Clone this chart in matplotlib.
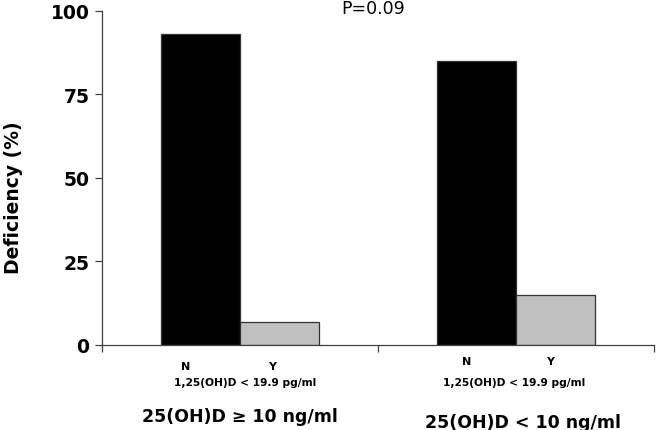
import matplotlib
matplotlib.use("Agg")
import matplotlib.pyplot as plt
import numpy as np

groups = ["25(OH)D \u2265 10 ng/ml", "25(OH)D < 10 ng/ml"]
sub_labels = ["N", "Y"]
sub_title = "1,25(OH)D < 19.9 pg/ml"
values_N = [93, 85]
values_Y = [7, 15]
yticks = [0, 25, 50, 75, 100]
p_text = "P=0.09"
ylabel = "Deficiency (%)"

W, H = 656, 431
fig = plt.figure(figsize=(W / 100, H / 100), dpi=100)
ax = fig.add_axes([102 / W, 1 - 346 / H, 552 / W, 334.5 / H])
x = np.arange(len(groups))
w = 0.286
ax.bar(x - w / 2, values_N, w, color="black", edgecolor="#333333", linewidth=0.9)
ax.bar(x + w / 2, values_Y, w, color="#c0c0c0", edgecolor="#333333", linewidth=0.9)
ax.set_xlim(-0.5, 1.5)
ax.set_ylim(0, 100)
ax.set_yticks(yticks)
ax.set_yticklabels([str(t) for t in yticks], fontfamily="DejaVu Sans",
                   fontweight="bold", fontsize=13.5)
ax.set_xticks([-0.5, 0.5, 1.5])
ax.set_xticklabels([])
ax.tick_params(axis="x", length=5, direction="out", color="#404040", width=0.9)
ax.tick_params(axis="y", length=5, direction="out", color="#404040", width=0.9, pad=4)
for s in ["top", "right"]:
    ax.spines[s].set_visible(False)
for s in ["left", "bottom"]:
    ax.spines[s].set_color("#404040")
    ax.spines[s].set_linewidth(0.9)

fig.text(14 / W, 1 - 198 / H, ylabel, rotation=90, ha="center", va="center",
         fontfamily="DejaVu Sans", fontweight="bold", fontsize=13.5)

trans = ax.get_xaxis_transform()
n_off = [-0.196, -0.178]
y_off = [0.116, 0.123]
ny_base = [-0.072, -0.057]
small_x = [0.018, -0.007]
big_x = [-0.002, 0.025]
big_base = [-0.227, -0.245]
for i, g in enumerate(groups):
    ax.text(i + n_off[i], ny_base[i], sub_labels[0], transform=trans, ha="center",
            va="baseline", fontfamily="DejaVu Sans", fontweight="bold", fontsize=8)
    ax.text(i + y_off[i], ny_base[i], sub_labels[1], transform=trans, ha="center",
            va="baseline", fontfamily="DejaVu Sans", fontweight="bold", fontsize=8)
    ax.text(i + small_x[i], -0.121, sub_title, transform=trans, ha="center",
            va="baseline", fontfamily="DejaVu Sans", fontweight="bold", fontsize=7.7)
    ax.text(i + big_x[i], big_base[i], g, transform=trans, ha="center", va="baseline",
            fontfamily="DejaVu Sans", fontweight="bold", fontsize=12.5)

ax.text(0.484, 1.007, p_text, transform=trans, ha="center", va="center",
        fontfamily="DejaVu Sans", fontsize=12.5)

fig.savefig("out.png", dpi=100)
